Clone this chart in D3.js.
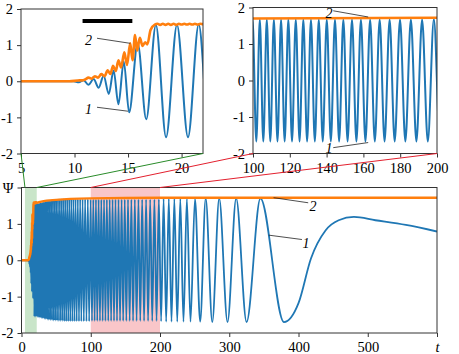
<!DOCTYPE html>
<html>
<head>
<meta charset="utf-8">
<script src="https://cdn.jsdelivr.net/npm/d3@7"></script>
<style>
  body { margin: 0; background: #fff; }
</style>
</head>
<body>
<div id="chart"></div>
<script>
// ---- data ----
// curve 1 (Psi): onset, chirped extrema, slow tail  [t, value]
const psiOnset = [
  [0, 0], [9.9, 0], [10.4, -0.03], [10.85, 0.03], [11.3, -0.1], [11.78, 0.06],
  [12.25, -0.18], [12.72, 0.15], [13.2, -0.35], [13.65, 0.3], [14.1, -0.64],
  [14.6, 0.55], [15.1, -0.86], [15.9, 1.05], [16.7, -1.05], [17.6, 1.56],
  [18.55, -1.55], [19.57, 1.56], [20.6, -1.55], [21.6, 1.57]
];
const psiChirp = [
  [22.6, -1.56], [23.6, 1.58], [24.6, -1.57], [25.63, 1.58], [26.65, -1.58], [27.68, 1.59],
  [28.7, -1.59], [29.75, 1.6], [30.8, -1.6], [31.85, 1.61], [32.9, -1.61], [33.98, 1.62],
  [35.05, -1.62], [36.15, 1.63], [37.25, -1.63], [38.38, 1.64], [39.5, -1.64], [40.65, 1.64],
  [41.8, -1.65], [42.98, 1.65], [44.15, -1.65], [45.35, 1.65], [46.55, -1.66], [47.78, 1.66],
  [49.0, -1.66], [50.25, 1.66], [51.5, -1.66], [52.78, 1.67], [54.05, -1.67], [55.35, 1.67],
  [56.65, -1.67], [57.98, 1.67], [59.3, -1.67], [60.65, 1.68], [62.0, -1.68], [63.38, 1.68],
  [64.75, -1.68], [66.18, 1.68], [67.6, -1.68], [69.05, 1.68], [70.5, -1.68], [72.0, 1.68],
  [73.5, -1.68], [75.03, 1.68], [76.55, -1.68], [78.13, 1.68], [79.7, -1.68], [81.35, 1.68],
  [83.0, -1.68], [84.7, 1.68], [86.4, -1.68], [88.2, 1.68], [90.0, -1.68], [91.9, 1.68],
  [93.8, -1.68], [95.75, 1.68], [97.7, -1.68], [99.75, 1.67], [101.8, -1.67], [103.7, 1.67],
  [105.6, -1.67], [107.5, 1.67], [109.4, -1.67], [111.35, 1.67], [113.3, -1.67], [115.25, 1.67],
  [117.2, -1.67], [119.2, 1.67], [121.2, -1.67], [123.25, 1.67], [125.3, -1.67], [127.35, 1.67],
  [129.4, -1.67], [131.5, 1.67], [133.6, -1.67], [135.75, 1.67], [137.9, -1.67], [140.1, 1.67],
  [142.3, -1.67], [144.55, 1.67], [146.8, -1.67], [149.1, 1.67], [151.4, -1.67], [153.8, 1.67],
  [156.2, -1.67], [158.65, 1.67], [161.1, -1.67], [163.65, 1.67], [166.2, -1.67], [168.85, 1.67],
  [171.5, -1.67], [174.25, 1.67], [177.0, -1.67], [179.9, 1.67], [182.8, -1.67], [185.8, 1.67],
  [188.8, -1.67], [191.9, 1.67], [195.0, -1.67], [198.3, 1.68], [201.6, -1.68], [205.2, 1.69],
  [208.9, -1.69], [212.7, 1.69], [216.6, -1.69], [220.7, 1.69], [224.9, -1.69], [229.3, 1.69],
  [233.9, -1.69], [238.8, 1.69], [244.0, -1.69], [250.5, 1.69], [258.0, -1.69], [266.0, 1.7],
  [275.5, -1.7], [285.5, 1.7], [297.5, -1.7], [310.0, 1.7], [325.0, -1.7], [345.0, 1.7],
  [379.0, -1.7]
];
const psiTail = [
  [400, -1.18], [418, 0.05], [439, 0.82], [458, 1.1], [480, 1.19], [511, 1.1], [555, 0.97], [600, 0.79]
];

// curve 2 (amplitude)
const ampOnset = [
  [0, 0], [9.5, 0], [10.3, 0.02], [10.8, 0.03], [11.0, 0.05], [11.3, 0.1], [11.6, 0.07],
  [11.9, 0.14], [12.2, 0.1], [12.5, 0.2], [12.8, 0.14], [13.1, 0.3], [13.35, 0.2],
  [13.6, 0.43], [13.85, 0.28], [14.1, 0.58], [14.35, 0.38], [14.65, 0.8], [14.9, 0.45],
  [15.2, 1.05], [15.42, 0.58], [15.65, 1.28], [15.85, 0.85], [16.1, 1.2], [16.35, 0.98],
  [16.6, 1.08], [16.8, 1.02], [17.1, 1.42], [17.5, 1.57]
];
const ampRipple = [
  [17.75, 1.59], [18.0, 1.56], [18.25, 1.59], [18.5, 1.56], [18.75, 1.59], [19.0, 1.56],
  [19.25, 1.59], [19.5, 1.56], [19.75, 1.59], [20.0, 1.57], [20.25, 1.59], [20.5, 1.57],
  [20.75, 1.59], [21.0, 1.57], [21.25, 1.59], [21.5, 1.57], [21.75, 1.59], [22.0, 1.58]
];
const ampPlateau = [[30, 1.62], [50, 1.66], [100, 1.7], [200, 1.72], [600, 1.72]];

// zoom windows and the black bar in the first inset
const windowEarly = [5, 22];
const windowMid = [100, 200];
const barSpan = [10.75, 15.4];
const barLevel = 1.67;

const ticksEarly = [5, 10, 15, 20];
const ticksMid = [100, 120, 140, 160, 180, 200];
const ticksMain = [0, 100, 200, 300, 400, 500, 600];
const ticksPsi = [-2, -1, 0, 1, 2];

// curve labels: [text, labelT, labelV, fromT, fromV, toT, toV]
const notesEarly = [["2", 11.3, 1.14, 12.1, 1.19, 15.2, 1.05], ["1", 11.3, -0.76, 12.1, -0.72, 15.0, -0.83]];
const notesMid = [["2", 141.3, 1.84, 143.6, 1.91, 162.6, 1.74], ["1", 141.3, -1.84, 143.6, -1.84, 162.6, -1.70]];
const notesMain = [["2", 421, 1.5, 364, 1.72, 414, 1.58], ["1", 411, 0.48, 357, 0.69, 405, 0.57]];

// ---- drawing ----
const psi = psiOnset.concat(psiChirp, psiTail);
const amp = ampOnset.concat(ampRipple, ampPlateau);

const W = 459, H = 354;
const blue = "#1f77b4", orange = "#ff7f0e";
const serif = '"Liberation Serif", "Times New Roman", serif';
const svg = d3.select("#chart").append("svg").attr("width", W).attr("height", H);
const defs = svg.append("defs");

function drawPanel(p) {
  const x = d3.scaleLinear().domain(p.xDomain).range([p.left, p.right]);
  const y = d3.scaleLinear().domain([-2, 2]).range([p.bottom, p.top]);
  const g = svg.append("g");

  defs.append("clipPath").attr("id", "clip-" + p.name)
    .append("rect")
    .attr("x", p.left).attr("y", p.top)
    .attr("width", p.right - p.left).attr("height", p.bottom - p.top);

  const body = g.append("g").attr("clip-path", `url(#clip-${p.name})`);

  (p.shades || []).forEach(s => {
    body.append("rect")
      .attr("x", x(s.span[0])).attr("width", x(s.span[1]) - x(s.span[0]))
      .attr("y", y(2)).attr("height", y(-2) - y(2))
      .attr("fill", s.color);
  });

  const line = d3.line().x(d => x(d[0])).y(d => y(d[1])).curve(d3.curveMonotoneX);
  body.append("path").datum(psi)
    .attr("fill", "none").attr("stroke", blue).attr("stroke-width", p.lw).attr("d", line);
  body.append("path").datum(amp)
    .attr("fill", "none").attr("stroke", orange).attr("stroke-width", p.lw + 0.6).attr("d", line);

  if (p.bar) {
    body.append("line")
      .attr("x1", x(barSpan[0])).attr("x2", x(barSpan[1]))
      .attr("y1", y(barLevel)).attr("y2", y(barLevel))
      .attr("stroke", "#000").attr("stroke-width", 4);
  }

  // axes
  const xAxis = g.append("g").attr("transform", `translate(0,${p.bottom})`)
    .call(d3.axisBottom(x).tickValues(p.xTicks).tickSize(4).tickPadding(5)
      .tickFormat(p.xFormat || (d => String(d))));
  const yAxis = g.append("g").attr("transform", `translate(${p.left},0)`)
    .call(d3.axisLeft(y).tickValues(ticksPsi).tickSize(4).tickPadding(4)
      .tickFormat(p.yFormat || (d => String(d))));
  [xAxis, yAxis].forEach(a => {
    a.attr("font-family", null);
    a.select(".domain").remove();
    a.selectAll(".tick line").attr("stroke", "#333");
    a.selectAll(".tick text").attr("fill", "#000")
      .style("font-family", serif).style("font-size", "14.5px");
  });
  xAxis.selectAll(".tick text").filter(d => d === 600).style("font-style", "italic");

  g.append("rect")
    .attr("x", p.left).attr("y", p.top)
    .attr("width", p.right - p.left).attr("height", p.bottom - p.top)
    .attr("fill", "none").attr("stroke", "#333").attr("stroke-width", 1);

  // curve labels with leader lines
  p.notes.forEach(n => {
    g.append("line")
      .attr("x1", x(n[3])).attr("y1", y(n[4]))
      .attr("x2", x(n[5])).attr("y2", y(n[6]))
      .attr("stroke", "#222").attr("stroke-width", 0.8);
    g.append("text")
      .attr("x", x(n[1])).attr("y", y(n[2]))
      .attr("text-anchor", "middle").attr("dy", "0.35em")
      .style("font-family", serif).style("font-size", "14px").style("font-style", "italic")
      .text(n[0]);
  });

  return { x, y, p };
}

const early = drawPanel({
  name: "early", left: 21, right: 203, top: 9, bottom: 153.5,
  xDomain: windowEarly, xTicks: ticksEarly, lw: 2, bar: true, notes: notesEarly
});
const mid = drawPanel({
  name: "mid", left: 253, right: 437, top: 7.5, bottom: 153.5,
  xDomain: windowMid, xTicks: ticksMid, lw: 2, notes: notesMid
});
const main = drawPanel({
  name: "main", left: 21.5, right: 437, top: 187.5, bottom: 333,
  xDomain: [0, 600], xTicks: ticksMain, lw: 1.8, notes: notesMain,
  xFormat: d => d === 600 ? "t" : String(d),
  yFormat: d => d === 2 ? "Ψ" : String(d),
  shades: [{ span: windowEarly, color: "#c9e5c9" }, { span: windowMid, color: "#f9c6c9" }]
});

// connectors from inset corners to the shaded windows
const connectors = svg.append("g");
[[early, windowEarly, "#2a8c2a"], [mid, windowMid, "#e3202e"]].forEach(([inset, win, color]) => {
  win.forEach(t => {
    connectors.append("line")
      .attr("x1", inset.x(t)).attr("y1", inset.p.bottom)
      .attr("x2", main.x(t)).attr("y2", main.p.top)
      .attr("stroke", color).attr("stroke-width", 1);
  });
});
</script>
</body>
</html>
